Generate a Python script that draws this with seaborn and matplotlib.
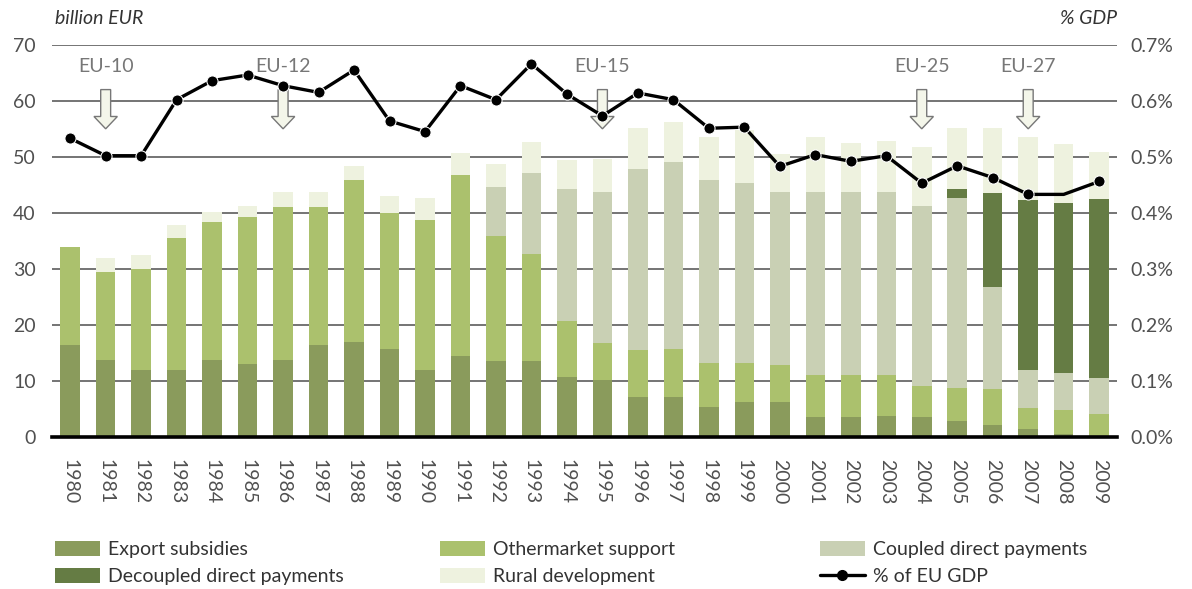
import numpy as np
import matplotlib
matplotlib.use("Agg")
import matplotlib.pyplot as plt
import seaborn as sns
from matplotlib.patches import FancyArrow, Patch
from matplotlib.lines import Line2D

# data (billion EUR)
years = list(range(1980, 2010))
export_subsidies = [16.4, 13.8, 12.0, 12.0, 13.8, 13.0, 13.8, 16.4, 16.9, 15.7,
                    12.0, 14.5, 13.5, 13.6, 10.8, 10.1, 7.1, 7.1, 5.4, 6.3,
                    6.3, 3.6, 3.6, 3.8, 3.5, 2.8, 2.1, 1.4, 0.5, 0.2]
other_market = [17.6, 15.6, 18.0, 23.6, 24.5, 26.2, 27.3, 24.7, 29.0, 24.2,
                26.8, 32.2, 22.3, 19.1, 9.9, 6.6, 8.4, 8.6, 7.9, 7.0,
                6.6, 7.4, 7.4, 7.2, 5.6, 5.9, 6.4, 3.7, 4.3, 4.0]
coupled_direct = [0, 0, 0, 0, 0, 0, 0, 0, 0, 0,
                  0, 0, 8.8, 14.5, 23.6, 27.1, 32.4, 33.3, 32.5, 32.1,
                  30.9, 32.8, 32.8, 32.8, 32.2, 33.9, 18.2, 6.9, 6.6, 6.4]
decoupled_direct = [0] * 25 + [1.7, 16.9, 30.3, 30.4, 31.8]
rural_development = [0, 2.6, 2.4, 2.3, 1.9, 2.1, 2.6, 2.6, 2.5, 3.2,
                     3.8, 4.0, 4.1, 5.4, 5.2, 5.8, 7.2, 7.3, 7.7, 9.4,
                     6.7, 9.7, 8.6, 9.1, 10.5, 10.9, 11.6, 11.2, 10.5, 8.4]
gdp_share = [0.533, 0.502, 0.502, 0.602, 0.636, 0.646, 0.627, 0.615, 0.655, 0.564,
             0.545, 0.627, 0.602, 0.666, 0.612, 0.573, 0.614, 0.602, 0.551, 0.553,
             0.483, 0.504, 0.492, 0.502, 0.453, 0.484, 0.463, 0.433, 0.433, 0.456]
enlargements = ["EU-10", "EU-12", "EU-15", "EU-25", "EU-27"]
enlargement_years = [1981, 1986, 1995, 2004, 2007]

layers = [
    ("Export subsidies", export_subsidies, "#8a9b5c"),
    ("Othermarket support", other_market, "#abc16d"),
    ("Coupled direct payments", coupled_direct, "#c9d0b4"),
    ("Decoupled direct payments", decoupled_direct, "#657c44"),
    ("Rural development", rural_development, "#eef2df"),
]

sns.set_style("white")
plt.rcParams["font.family"] = ["Lato", "DejaVu Sans"]

fig = plt.figure(figsize=(11.92, 5.89), dpi=100)
ax = fig.add_axes([0.044, 0.258, 0.893, 0.666])

# stacked bars: draw cumulative totals from the top layer down
tops = np.cumsum([np.array(v, dtype=float) for _, v, _ in layers], axis=0)
for i in range(len(layers) - 1, -1, -1):
    sns.barplot(x=years, y=tops[i], color=layers[i][2], width=0.55,
                saturation=1, linewidth=0, errorbar=None, ax=ax)

ax.set_ylim(0, 70)
ax.set_xlim(-0.5, len(years) - 0.5)
ax.set_yticks(range(0, 71, 10))
ax.set_axisbelow(True)
ax.yaxis.grid(True, color="#5c5c5c", linewidth=1.2)
ax.xaxis.grid(False)
for s in ["top", "left", "right"]:
    ax.spines[s].set_visible(False)
ax.spines["bottom"].set_color("black")
ax.spines["bottom"].set_linewidth(2.6)

ax.set_xticks(range(len(years)))
ax.set_xticklabels([str(y) for y in years], rotation=-90, fontsize=14, color="#505050")
ax.set_xticks(np.arange(-0.5, len(years), 1.0), minor=True)
ax.tick_params(axis="x", which="major", length=0, pad=16)
ax.tick_params(axis="x", which="minor", length=6, width=1, color="black", direction="out")
ax.tick_params(axis="y", length=0, labelsize=14, labelcolor="#505050", pad=12)
ax.set_xlabel("")
ax.set_ylabel("")

# enlargement arrows
for label, yr in zip(enlargements, enlargement_years):
    xi = years.index(yr)
    ax.add_patch(FancyArrow(xi, 62.0, 0, -7.0, width=0.28, head_width=0.66,
                            head_length=2.2, length_includes_head=True,
                            fc="#f4f6ea", ec="#777777", lw=1, zorder=3))
    ax.text(xi, 66.2, label, ha="center", va="center", fontsize=14, color="#777")

# share of GDP line on the right axis
ax2 = ax.twinx()
marks = [i for i in range(len(years)) if years[i] != 2008]
sns.lineplot(x=np.arange(len(years)), y=gdp_share, color="black", linewidth=2.4,
             marker="o", markersize=8, markevery=marks, ax=ax2)
ax2.set_ylim(0, 0.7)
ax2.set_yticks(np.arange(0, 0.71, 0.1))
ax2.set_yticklabels([f"{t:.1f}%" for t in np.arange(0, 0.71, 0.1)])
ax2.tick_params(axis="y", length=0, labelsize=14, labelcolor="#505050", pad=10)
ax2.grid(False)
for s in ax2.spines.values():
    s.set_visible(False)
ax2.set_xlim(-0.5, len(years) - 0.5)

fig.text(0.046, 0.968, "billion EUR", fontsize=14, style="italic", color="#333", va="center")
fig.text(0.937, 0.968, "% GDP", fontsize=14, style="italic", color="#333", va="center", ha="right")

# legend: three columns placed where the reference has them
h = {name: Patch(facecolor=c, edgecolor="none") for name, _, c in layers}
line_h = Line2D([], [], color="black", lw=2.4, marker="o", markersize=7)
columns = [
    (55, [("Export subsidies", h["Export subsidies"]),
          ("Decoupled direct payments", h["Decoupled direct payments"])]),
    (440, [("Othermarket support", h["Othermarket support"]),
           ("Rural development", h["Rural development"])]),
    (820, [("Coupled direct payments", h["Coupled direct payments"]),
           ("% of EU GDP", line_h)]),
]
for xpix, entries in columns:
    fig.legend([e[1] for e in entries], [e[0] for e in entries],
               loc="upper left", bbox_to_anchor=(xpix / 1192, 1 - 541 / 589),
               frameon=False, fontsize=14, handlelength=2.3, handleheight=0.8,
               labelspacing=0.5, handletextpad=0.45, borderaxespad=0,
               borderpad=0, labelcolor="#333")

fig.savefig("out.png", dpi=100)
